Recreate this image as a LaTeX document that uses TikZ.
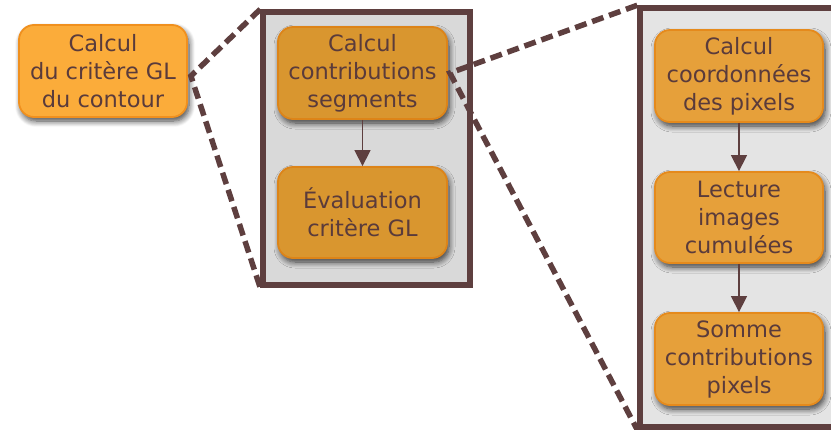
\documentclass[tikz,border=0pt]{standalone}
\usepackage{fontspec}
\setmainfont{DejaVu Sans}
\usetikzlibrary{shadows.blur,arrows.meta}
\definecolor{brd}{HTML}{5E3F3F}
\definecolor{txt}{HTML}{5A3B3B}
\definecolor{lfill}{HTML}{FBAC3A}
\definecolor{lborder}{HTML}{F0901E}
\definecolor{mfill}{HTML}{D9962F}
\definecolor{mborder}{HTML}{DD8418}
\definecolor{rfill}{HTML}{E6A03A}
\definecolor{rborder}{HTML}{E58A1C}
\definecolor{mpanel}{HTML}{D9D9D9}
\definecolor{rpanel}{HTML}{E4E4E4}
\tikzset{
  x=1pt,y=-1pt,
  box/.style={rectangle, rounded corners=15pt, line width=1.8pt, align=center,
    text=txt, font=\fontsize{22.5}{28}\selectfont,
    minimum width=168pt, minimum height=92pt, inner sep=0pt,
    blur shadow={shadow xshift=2pt, shadow yshift=-4pt, shadow blur radius=6pt, shadow blur steps=8, shadow opacity=75}},
  lbox/.style={box, fill=lfill, draw=lborder},
  mbox/.style={box, fill=mfill, draw=mborder},
  rbox/.style={box, fill=rfill, draw=rborder},
  panel/.style={rectangle, draw=brd, line width=5.5pt, inner sep=0pt},
  zoomline/.style={draw=brd, line width=5.5pt, dash pattern=on 12pt off 6pt},
  flow/.style={draw=brd, line width=1.4pt, -{Triangle[width=16pt,length=16pt]}},
}
\begin{document}
\begin{tikzpicture}
\useasboundingbox (0,0) rectangle (831,429);
\clip (0,0) rectangle (831,429);
% panels
\node[panel, fill=mpanel, minimum width=207pt, minimum height=273pt] (MP) at (366.5,148.5) {};
\node[panel, fill=rpanel, minimum width=215pt, minimum height=419pt] (RP) at (747.5,217.5) {};
% left node
\node[lbox] (L) at (103,71) {Calcul\\du critère GL\\du contour};
% middle nodes
\node[mbox, minimum width=169pt] (M1) at (362.5,73) {Calcul\\contributions\\segments};
\node[mbox, minimum width=169pt, minimum height=91pt] (M2) at (362.5,212.5) {Évaluation\\critère GL};
% right nodes
\node[rbox] (R1) at (739,76) {Calcul\\coordonnées\\des pixels};
\node[rbox, minimum height=91pt] (R2) at (739,217.5) {Lecture\\images\\cumulées};
\node[rbox] (R3) at (739,359) {Somme\\contributions\\pixels};
% arrows
\draw[flow] (M1) -- (M2);
\draw[flow] (R1) -- (R2);
\draw[flow] (R2) -- (R3);
% zoom lines
\coordinate (Lz) at ([xshift=3pt,yshift=-5pt]L.east);
\coordinate (Mz) at ([xshift=2pt]M1.east);
\draw[zoomline] (MP.north west) -- (Lz) -- (MP.south west);
\draw[zoomline] (RP.north west) -- (Mz) -- (RP.south west);
\end{tikzpicture}
\end{document}
